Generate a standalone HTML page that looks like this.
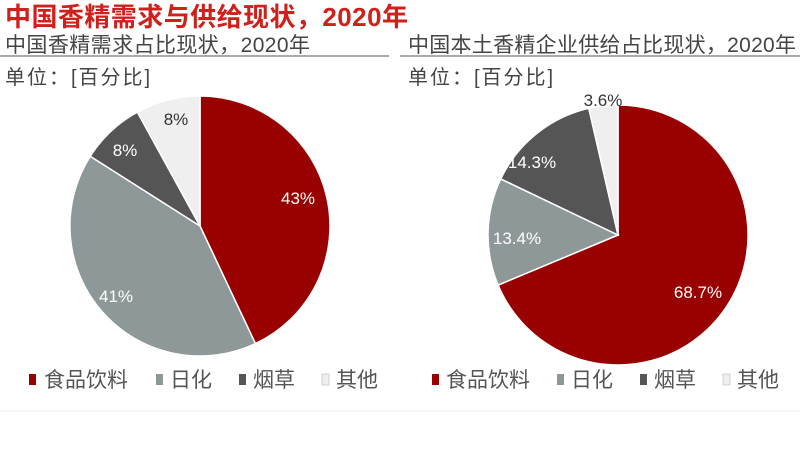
<!DOCTYPE html>
<html><head><meta charset="utf-8"><style>
body{margin:0;width:800px;height:450px;background:#fff;overflow:hidden;font-family:"Liberation Sans","Noto Sans CJK SC",sans-serif}
</style></head><body>
<svg width="800" height="450" xmlns="http://www.w3.org/2000/svg" font-family="Liberation Sans, Noto Sans CJK SC, sans-serif">
<text x="5" y="26" font-size="26" fill="#d0201c" font-weight="bold" textLength="403">中国香精需求与供给现状，2020年</text>
<text x="5" y="52" font-size="21" fill="#444" textLength="305">中国香精需求占比现状，2020年</text>
<text x="408" y="52" font-size="21" fill="#444" textLength="388">中国本土香精企业供给占比现状，2020年</text>
<line x1="0" y1="56" x2="389" y2="56" stroke="#777" stroke-width="1.2"/>
<line x1="400" y1="56" x2="800" y2="56" stroke="#777" stroke-width="1.2"/>
<text x="5" y="84" font-size="20" fill="#444" textLength="145">单位：[百分比]</text>
<text x="408" y="84" font-size="20" fill="#444" textLength="145">单位：[百分比]</text>
<g stroke="#fff" stroke-width="1.5">
<path d="M200,226 L200,96 A130,130 0 0 1 255.4,343.6 Z" fill="#990000"/>
<path d="M200,226 L255.4,343.6 A130,130 0 0 1 90.2,156.3 Z" fill="#8e9899"/>
<path d="M200,226 L90.2,156.3 A130,130 0 0 1 137.4,112.1 Z" fill="#555"/>
<path d="M200,226 L137.4,112.1 A130,130 0 0 1 200,96 Z" fill="#efefef"/>
<path d="M618,235 L618,105 A130,130 0 1 1 498.1,285.1 Z" fill="#990000"/>
<path d="M618,235 L498.1,285.1 A130,130 0 0 1 500.7,178.9 Z" fill="#8e9899"/>
<path d="M618,235 L500.7,178.9 A130,130 0 0 1 588.8,108.3 Z" fill="#555"/>
<path d="M618,235 L588.8,108.3 A130,130 0 0 1 618,105 Z" fill="#efefef"/>
</g>
<g font-size="17" text-anchor="middle">
<text x="298" y="204" fill="#fff">43%</text>
<text x="116" y="302" fill="#fff">41%</text>
<text x="125" y="156" fill="#fff">8%</text>
<text x="176" y="125" fill="#333">8%</text>
<text x="698" y="298" fill="#fff">68.7%</text>
<text x="517" y="244" fill="#fff">13.4%</text>
<text x="532" y="168" fill="#fff">14.3%</text>
<text x="603" y="106" fill="#333">3.6%</text>
</g>
<g font-size="21" fill="#555">
<rect x="29" y="374" width="7" height="11" fill="#990000"/><text x="44" y="387">食品饮料</text>
<rect x="156" y="374" width="7" height="11" fill="#8e9899"/><text x="170" y="387">日化</text>
<rect x="239" y="374" width="7" height="11" fill="#555"/><text x="253" y="387">烟草</text>
<rect x="322" y="374" width="7" height="11" fill="#efefef" stroke="#aaa" stroke-width="0.5"/><text x="336" y="387">其他</text>
<rect x="432" y="374" width="7" height="11" fill="#990000"/><text x="446" y="387">食品饮料</text>
<rect x="557" y="374" width="7" height="11" fill="#8e9899"/><text x="571" y="387">日化</text>
<rect x="640" y="374" width="7" height="11" fill="#555"/><text x="654" y="387">烟草</text>
<rect x="723" y="374" width="7" height="11" fill="#efefef" stroke="#aaa" stroke-width="0.5"/><text x="737" y="387">其他</text>
</g>
<line x1="0" y1="411" x2="800" y2="411" stroke="#eee" stroke-width="1"/>
</svg>
</body></html>
